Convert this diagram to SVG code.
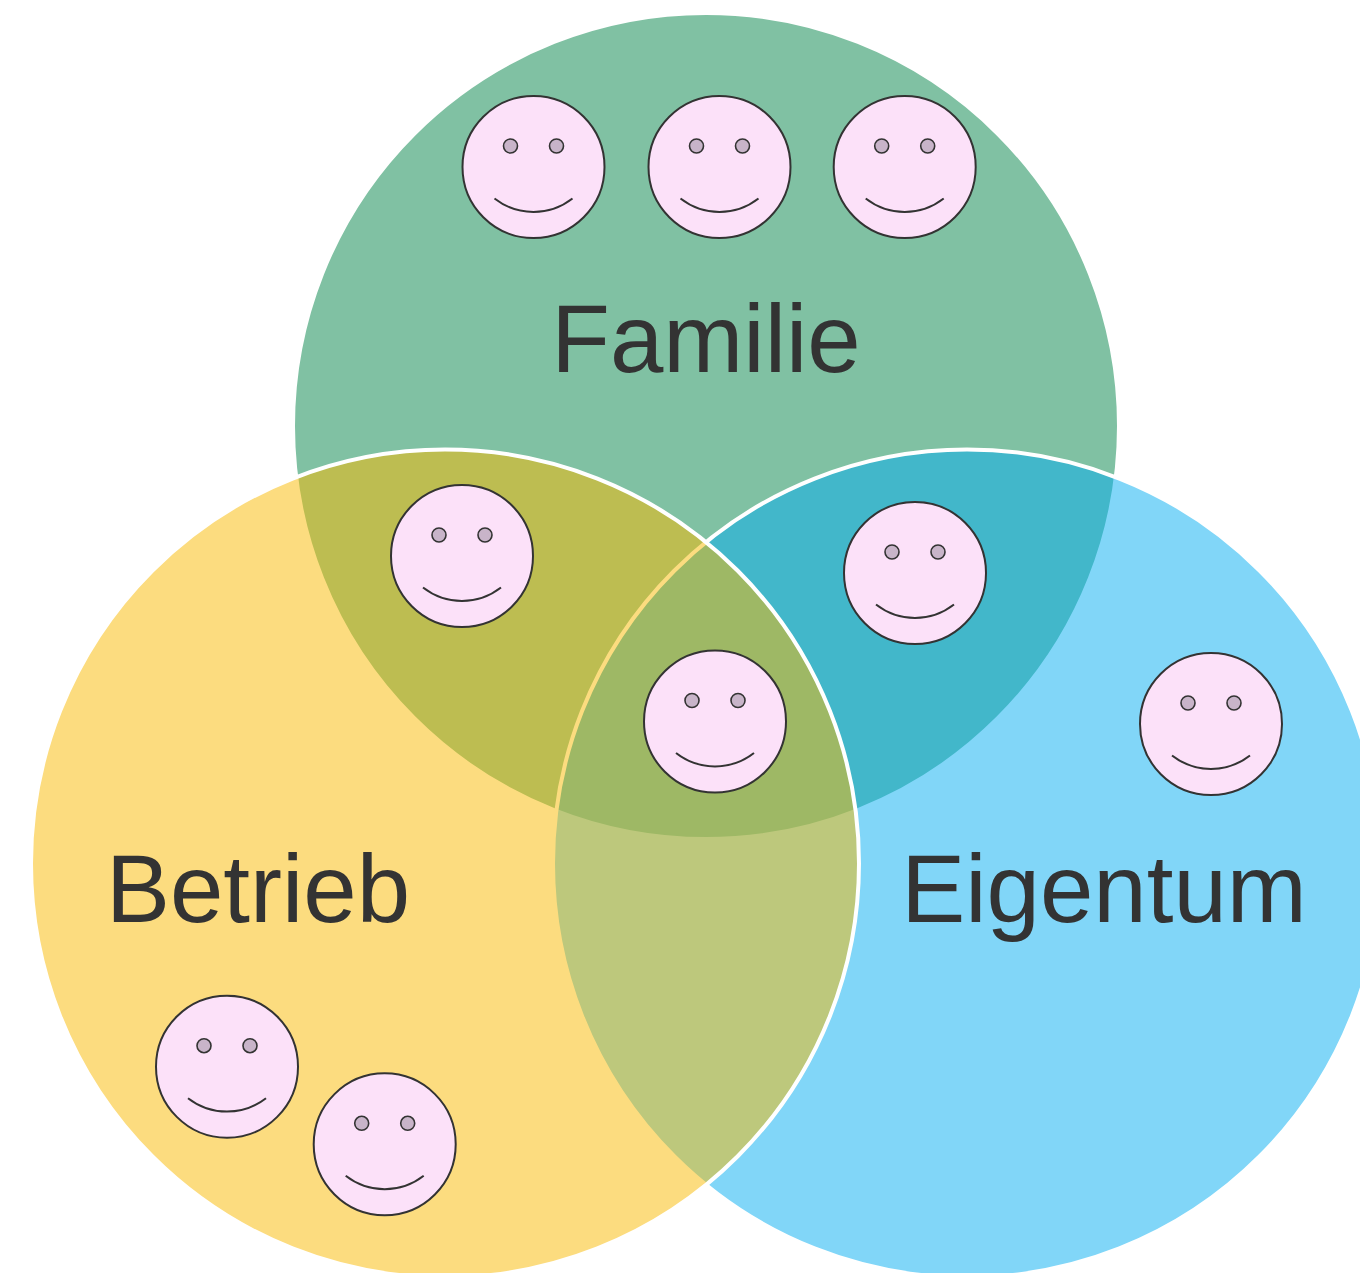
<svg xmlns="http://www.w3.org/2000/svg" xmlns:xlink="http://www.w3.org/1999/xlink" width="1360" height="1273" viewBox="0 0 1360 1273">
  <style>
    .set { fill-opacity: 0.5; stroke: #ffffff; stroke-width: 4; }
    .label { font-family: "Liberation Sans", Arial, sans-serif; font-size: 96px; fill: #333333; }
    .head { fill: #FCE1F9; stroke: #333333; stroke-width: 2; }
    .eye { fill: #C8B4C9; stroke: #333333; stroke-width: 1.6; }
    .smile { fill: none; stroke: #333333; stroke-width: 2; stroke-linecap: butt; }
  </style>
  <defs>
    <g id="face">
      <circle class="head" cx="0" cy="0" r="71"/>
      <circle class="eye" cx="-23" cy="-21" r="7"/>
      <circle class="eye" cx="23" cy="-21" r="7"/>
      <path class="smile" d="M -39 31.5 A 63.5 63.5 0 0 0 39 31.5"/>
    </g>
  </defs>
  <rect x="0" y="0" width="1360" height="1273" fill="#ffffff"/>

  <g id="familie">
    <circle class="set" cx="706" cy="426" r="413" fill="#018347"/>
  </g>
  <g id="eigentum">
    <circle class="set" cx="967" cy="863.5" r="414" fill="#03ADF1"/>
  </g>
  <g id="betrieb">
    <circle class="set" cx="445" cy="863.5" r="414" fill="#FABA00"/>
  </g>

  <g id="labels">
    <text class="label" x="706" y="372" text-anchor="middle">Familie</text>
    <text class="label" x="258" y="922" text-anchor="middle">Betrieb</text>
    <text class="label" x="1104" y="922" text-anchor="middle">Eigentum</text>
  </g>

  <g id="smiley-1"><use xlink:href="#face" transform="translate(533.5,167)"/></g>
  <g id="smiley-2"><use xlink:href="#face" transform="translate(719.5,167)"/></g>
  <g id="smiley-3"><use xlink:href="#face" transform="translate(904.7,167)"/></g>
  <g id="smiley-4"><use xlink:href="#face" transform="translate(462,556)"/></g>
  <g id="smiley-5"><use xlink:href="#face" transform="translate(915,573)"/></g>
  <g id="smiley-6"><use xlink:href="#face" transform="translate(715,721.5)"/></g>
  <g id="smiley-7"><use xlink:href="#face" transform="translate(1211,724)"/></g>
  <g id="smiley-8"><use xlink:href="#face" transform="translate(227,1066.7)"/></g>
  <g id="smiley-9"><use xlink:href="#face" transform="translate(384.7,1144.3)"/></g>
</svg>
